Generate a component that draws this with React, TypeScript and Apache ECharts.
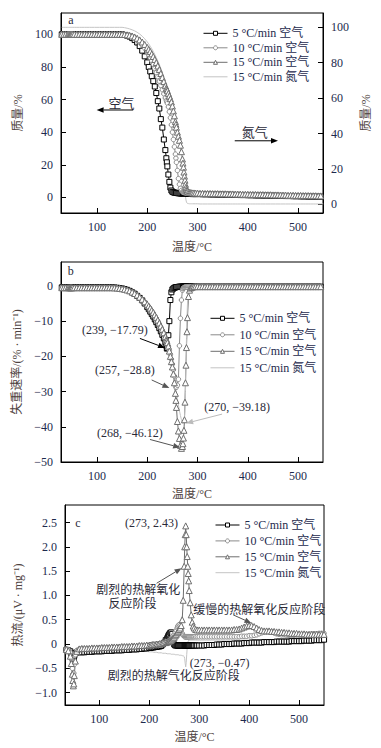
import React, { useEffect, useRef } from "react";
import * as echarts from "echarts";

// shared temperature grid (°C)
const temps = [
  30, 34, 38, 42, 44, 46, 47, 48, 49, 50, 52, 55, 60,
  65, 70, 75, 80, 85, 90, 95, 100, 105, 110, 115, 120, 125, 130, 135, 140, 145, 150, 155, 160, 165, 170, 175, 180, 185, 190, 195, 200,
  203, 206, 209, 212, 215, 218, 221, 224, 227, 230, 233, 236,
  238, 239, 240, 242, 244, 246, 248, 250, 252, 254, 256, 257, 258, 260, 262, 264, 266, 268, 270,
  271, 272, 273, 274, 275, 276, 277, 278, 279, 280,
  282, 284, 286, 288, 290,
  293, 296, 300,
  305, 310, 315, 320, 325, 330, 335, 340, 345, 350,
  355, 360, 365, 370, 375, 380, 385, 390, 395, 400,
  405, 410, 415, 420, 425, 430, 435, 440, 445, 450,
  455, 460, 465, 470, 475, 480, 485, 490, 495, 500,
  505, 510, 515, 520, 525, 530, 535, 540, 545, 550,
];

const seriesNames = ["5 °C/min 空气", "10 °C/min 空气", "15 °C/min 空气", "15 °C/min 氮气"];
const xTicks = [100, 200, 300, 400, 500];
const massTicks = [0, 20, 40, 60, 80, 100];
const rateTicks = [-50, -40, -30, -20, -10, 0];
const heatTicks = [-1, -0.5, 0, 0.5, 1, 1.5, 2, 2.5];

// (a) mass %
const massAir5 = [
  100, 100, 100, 100, 100, 100, 100, 100, 100, 100, 100, 100, 100,
  100, 100, 100, 100, 100, 100, 100, 100, 100, 100, 100, 100, 100, 100, 100, 100, 100, 100, 99.6, 99.2, 98.6, 97.7, 96.5, 95, 92.8, 90, 86.5, 82.8,
  80, 77.2, 74.3, 71.3, 68, 64, 59, 54.5, 48, 42.8, 35.5, 29,
  24, 21.5, 19, 14, 9.5, 6, 4.2, 3.4, 3.1, 2.9, 2.8, 2.7, 2.7, 2.6, 2.5, 2.5, 2.4, 2.4, 2.3,
  2.3, 2.3, 2.3, 2.2, 2.2, 2.2, 2.2, 2.2, 2.2, 2.1,
  2.1, 2.1, 2.1, 2.1, 2.0,
  2.0, 2.0, 2.0,
  2.0, 1.9, 1.9, 1.9, 1.8, 1.8, 1.8, 1.7, 1.7, 1.7,
  1.6, 1.6, 1.6, 1.5, 1.5, 1.5, 1.4, 1.4, 1.4, 1.3,
  1.3, 1.3, 1.2, 1.2, 1.2, 1.1, 1.1, 1.1, 1.0, 1.0,
  1.0, 0.9, 0.9, 0.9, 0.8, 0.8, 0.8, 0.7, 0.7, 0.7,
  0.6, 0.6, 0.6, 0.5, 0.5, 0.5, 0.4, 0.4, 0.4, 0.3,
];
const massAir10 = [
  100, 100, 100, 100, 100, 100, 100, 100, 100, 100, 100, 100, 100,
  100, 100, 100, 100, 100, 100, 100, 100, 100, 100, 100, 100, 100, 100, 100, 100, 100, 100, 99.8, 99.5, 99.1, 98.5, 97.7, 96.6, 95.2, 93.5, 91.5, 89.2,
  87.6, 85.8, 83.8, 81.6, 79, 76.5, 74, 71.3, 68.6, 66, 63.5, 61,
  59.5, 58.7, 57.8, 55.5, 52.5, 48.8, 44.5, 40, 35.5, 31, 26.5, 24, 21.5, 16.5, 11.5, 8, 5.5, 4.2, 3.4,
  3.2, 3.1, 3.0, 2.9, 2.9, 2.8, 2.8, 2.7, 2.7, 2.7,
  2.6, 2.6, 2.6, 2.5, 2.5,
  2.5, 2.4, 2.4,
  2.3, 2.3, 2.2, 2.2, 2.2, 2.1, 2.1, 2.1, 2.0, 2.0,
  2.0, 1.9, 1.9, 1.9, 1.8, 1.8, 1.8, 1.7, 1.7, 1.7,
  1.6, 1.6, 1.6, 1.5, 1.5, 1.5, 1.4, 1.4, 1.4, 1.3,
  1.3, 1.3, 1.2, 1.2, 1.2, 1.1, 1.1, 1.1, 1.0, 1.0,
  1.0, 0.9, 0.9, 0.9, 0.8, 0.8, 0.8, 0.7, 0.7, 0.6,
];
const massAir15 = [
  100, 100, 100, 100, 100, 100, 100, 100, 100, 100, 100, 100, 100,
  100, 100, 100, 100, 100, 100, 100, 100, 100, 100, 100, 100, 100, 100, 100, 100, 100, 100, 99.9, 99.7, 99.4, 99, 98.4, 97.6, 96.6, 95.3, 93.8, 92,
  90.8, 89.5, 88, 86.4, 84.6, 82.7, 80.6, 78.4, 76, 73.5, 71, 68.5,
  67, 66.2, 65.4, 63.8, 62.2, 60.5, 58.5, 56, 53, 50, 46.5, 44.8, 43, 40, 37.5, 35, 32, 28, 23.5,
  21, 18.5, 15.5, 13, 10.5, 8, 6.2, 5, 4.2, 3.7,
  3.2, 3.0, 2.9, 2.8, 2.7,
  2.7, 2.6, 2.6,
  2.5, 2.5, 2.4, 2.4, 2.4, 2.3, 2.3, 2.3, 2.2, 2.2,
  2.2, 2.1, 2.1, 2.1, 2.0, 2.0, 2.0, 1.9, 1.9, 1.9,
  1.8, 1.8, 1.8, 1.7, 1.7, 1.7, 1.6, 1.6, 1.6, 1.5,
  1.5, 1.5, 1.4, 1.4, 1.4, 1.3, 1.3, 1.3, 1.2, 1.2,
  1.2, 1.1, 1.1, 1.1, 1.0, 1.0, 1.0, 0.9, 0.9, 0.8,
];
const massN2 = [
  100, 100, 100, 100, 100, 100, 100, 100, 100, 100, 100, 100, 100,
  100, 100, 100, 100, 100, 100, 100, 100, 100, 100, 100, 100, 100, 100, 100, 100, 100, 100, 99.8, 99.5, 99.1, 98.6, 98, 97.2, 96.2, 95, 93.5, 91.8,
  90.6, 89.3, 87.9, 86.4, 84.7, 82.9, 81, 79, 76.8, 74.5, 72, 69.5,
  67.8, 67, 66, 64.2, 62.3, 60.2, 58, 55.6, 53, 50.2, 47.4, 46, 44.5, 41.5, 39, 36.5, 33, 29, 24.5,
  21.5, 18, 14.5, 11, 7.5, 4.5, 2.5, 1.3, 0.8, 0.5,
  0.4, 0.3, 0.3, 0.3, 0.3,
  0.3, 0.3, 0.3,
  0.2, 0.2, 0.2, 0.2, 0.2, 0.2, 0.2, 0.2, 0.2, 0.2,
  0.2, 0.2, 0.2, 0.2, 0.2, 0.2, 0.2, 0.2, 0.2, 0.2,
  0.2, 0.2, 0.2, 0.2, 0.2, 0.2, 0.2, 0.2, 0.2, 0.2,
  0.2, 0.2, 0.2, 0.2, 0.2, 0.2, 0.2, 0.2, 0.2, 0.2,
  0.2, 0.2, 0.2, 0.2, 0.2, 0.2, 0.2, 0.2, 0.2, 0.2,
];

// (b) mass-loss rate %/min
const rateAir5 = [
  -0.4, -0.4, -0.4, -0.4, -0.4, -0.4, -0.4, -0.4, -0.4, -0.4, -0.4, -0.4, -0.4,
  -0.4, -0.4, -0.4, -0.4, -0.4, -0.4, -0.4, -0.4, -0.4, -0.4, -0.4, -0.4, -0.4, -0.4, -0.45, -0.5, -0.6, -0.7, -0.9, -1.1, -1.4, -1.8, -2.2, -2.8, -3.4, -4.1, -5, -6,
  -6.6, -7.3, -8, -8.7, -9.5, -10.3, -11.1, -12, -12.9, -13.9, -14.9, -16,
  -17, -17.79, -17.6, -14, -10, -4, -1.8, -1.0, -0.7, -0.5, -0.4, -0.35, -0.3, -0.3, -0.25, -0.2, -0.2, -0.2, -0.2,
  -0.2, -0.2, -0.2, -0.2, -0.2, -0.2, -0.2, -0.2, -0.2, -0.2,
  -0.2, -0.2, -0.2, -0.2, -0.2,
  -0.2, -0.2, -0.2,
  -0.2, -0.2, -0.2, -0.2, -0.2, -0.2, -0.2, -0.2, -0.2, -0.2,
  -0.2, -0.2, -0.2, -0.2, -0.2, -0.2, -0.2, -0.2, -0.2, -0.2,
  -0.2, -0.2, -0.2, -0.2, -0.2, -0.2, -0.2, -0.2, -0.2, -0.2,
  -0.2, -0.2, -0.2, -0.2, -0.2, -0.2, -0.2, -0.2, -0.2, -0.2,
  -0.2, -0.2, -0.2, -0.2, -0.2, -0.2, -0.2, -0.2, -0.2, -0.2,
];
const rateAir10 = [
  -0.5, -0.5, -0.5, -0.5, -0.5, -0.5, -0.5, -0.5, -0.5, -0.5, -0.5, -0.5, -0.5,
  -0.5, -0.5, -0.5, -0.5, -0.5, -0.5, -0.5, -0.5, -0.5, -0.5, -0.5, -0.5, -0.5, -0.5, -0.55, -0.6, -0.7, -0.8, -1.0, -1.2, -1.5, -1.9, -2.3, -2.8, -3.4, -4.0, -4.7, -5.5,
  -6.0, -6.6, -7.2, -7.8, -8.5, -9.2, -10, -10.8, -11.7, -12.6, -13.6, -14.7,
  -15.5, -15.9, -16.3, -17.2, -18.3, -19.5, -20.8, -22.2, -23.8, -25.6, -27.6, -28.8, -28.7, -28.2, -26.5, -17, -9.2, -4, -1.2,
  -0.8, -0.6, -0.5, -0.4, -0.35, -0.3, -0.3, -0.3, -0.3, -0.3,
  -0.25, -0.25, -0.25, -0.25, -0.25,
  -0.2, -0.2, -0.2,
  -0.2, -0.2, -0.2, -0.2, -0.2, -0.2, -0.2, -0.2, -0.2, -0.2,
  -0.2, -0.2, -0.2, -0.2, -0.2, -0.2, -0.2, -0.2, -0.2, -0.2,
  -0.2, -0.2, -0.2, -0.2, -0.2, -0.2, -0.2, -0.2, -0.2, -0.2,
  -0.2, -0.2, -0.2, -0.2, -0.2, -0.2, -0.2, -0.2, -0.2, -0.2,
  -0.2, -0.2, -0.2, -0.2, -0.2, -0.2, -0.2, -0.2, -0.2, -0.2,
];
const rateAir15 = [
  -0.5, -0.5, -0.5, -0.5, -0.5, -0.5, -0.5, -0.5, -0.5, -0.5, -0.5, -0.5, -0.5,
  -0.5, -0.5, -0.5, -0.5, -0.5, -0.5, -0.5, -0.5, -0.5, -0.5, -0.5, -0.5, -0.5, -0.5, -0.55, -0.6, -0.7, -0.8, -0.95, -1.15, -1.4, -1.75, -2.15, -2.6, -3.2, -3.8, -4.5, -5.2,
  -5.7, -6.3, -6.9, -7.5, -8.2, -8.9, -9.7, -10.5, -11.4, -12.3, -13.3, -14.4,
  -15.2, -15.6, -16.1, -17.1, -18.5, -20, -21.5, -23, -25, -27.5, -30.5, -32.5, -34.5, -38.5, -41.2, -43.3, -45.3, -46.12, -45.6,
  -44.8, -43.2, -41, -38, -33, -27.5, -22.5, -17.5, -13, -9,
  -3, -1.2, -0.6, -0.4, -0.3,
  -0.2, -0.2, -0.2,
  -0.2, -0.2, -0.2, -0.2, -0.2, -0.2, -0.2, -0.2, -0.2, -0.2,
  -0.2, -0.2, -0.2, -0.2, -0.2, -0.2, -0.2, -0.2, -0.2, -0.2,
  -0.2, -0.2, -0.2, -0.2, -0.2, -0.2, -0.2, -0.2, -0.2, -0.2,
  -0.2, -0.2, -0.2, -0.2, -0.2, -0.2, -0.2, -0.2, -0.2, -0.2,
  -0.2, -0.2, -0.2, -0.2, -0.2, -0.2, -0.2, -0.2, -0.2, -0.2,
];
const rateN2 = [
  -0.5, -0.5, -0.5, -0.5, -0.5, -0.5, -0.5, -0.5, -0.5, -0.5, -0.5, -0.5, -0.5,
  -0.5, -0.5, -0.5, -0.5, -0.5, -0.5, -0.5, -0.5, -0.5, -0.5, -0.5, -0.5, -0.5, -0.5, -0.55, -0.6, -0.7, -0.8, -0.95, -1.15, -1.4, -1.75, -2.15, -2.6, -3.2, -3.8, -4.5, -5.2,
  -5.7, -6.3, -6.9, -7.5, -8.2, -8.9, -9.7, -10.5, -11.4, -12.3, -13.3, -14.4,
  -15.2, -15.6, -16.1, -17.1, -18.5, -20, -21.5, -23, -24.8, -26.6, -28.4, -29.3, -30.2, -32, -33.8, -35.4, -36.8, -38, -38.9,
  -39.1, -39.18, -38.8, -37.5, -35, -30, -23, -15, -9, -5,
  -1.8, -0.8, -0.5, -0.4, -0.3,
  -0.3, -0.2, -0.2,
  -0.2, -0.2, -0.2, -0.2, -0.2, -0.2, -0.2, -0.2, -0.2, -0.2,
  -0.2, -0.2, -0.2, -0.2, -0.2, -0.2, -0.2, -0.2, -0.2, -0.2,
  -0.2, -0.2, -0.2, -0.2, -0.2, -0.2, -0.2, -0.2, -0.2, -0.2,
  -0.2, -0.2, -0.2, -0.2, -0.2, -0.2, -0.2, -0.2, -0.2, -0.2,
  -0.2, -0.2, -0.2, -0.2, -0.2, -0.2, -0.2, -0.2, -0.2, -0.2,
];

// (c) heat flow µV/mg
const heatAir5 = [
  -0.12, -0.12, -0.13, -0.15, -0.2, -0.28, -0.33, -0.35, -0.3, -0.24, -0.19, -0.17, -0.17,
  -0.17, -0.17, -0.16, -0.16, -0.16, -0.15, -0.15, -0.15, -0.15, -0.14, -0.14, -0.14, -0.14, -0.13, -0.13, -0.13, -0.13, -0.12, -0.12, -0.12, -0.11, -0.11, -0.11, -0.1, -0.1, -0.09, -0.09, -0.08,
  -0.08, -0.07, -0.07, -0.06, -0.06, -0.05, -0.05, -0.04, -0.01, 0.03, 0.08, 0.12,
  0.16, 0.18, 0.2, 0.23, 0.24, 0.21, 0.08, -0.01, -0.03, -0.03, -0.03, -0.03, -0.03, -0.03, -0.03, -0.03, -0.03, -0.03, -0.03,
  -0.03, -0.03, -0.03, -0.03, -0.03, -0.03, -0.03, -0.03, -0.03, -0.03,
  -0.03, -0.03, -0.03, -0.03, -0.03,
  -0.03, -0.03, -0.03,
  -0.03, -0.03, -0.02, -0.02, -0.02, -0.02, -0.01, -0.01, -0.01, 0,
  0, 0, 0, 0.01, 0.01, 0.01, 0.01, 0.02, 0.02, 0.02,
  0.03, 0.03, 0.03, 0.03, 0.03, 0.04, 0.04, 0.04, 0.04, 0.04,
  0.05, 0.05, 0.05, 0.05, 0.05, 0.05, 0.06, 0.06, 0.06, 0.06,
  0.06, 0.07, 0.07, 0.07, 0.07, 0.08, 0.08, 0.08, 0.08, 0.09,
];
const heatAir10 = [
  -0.1, -0.1, -0.12, -0.18, -0.3, -0.5, -0.62, -0.68, -0.6, -0.42, -0.22, -0.13, -0.1,
  -0.1, -0.1, -0.1, -0.09, -0.09, -0.09, -0.09, -0.08, -0.08, -0.08, -0.08, -0.07, -0.07, -0.07, -0.07, -0.06, -0.06, -0.06, -0.06, -0.05, -0.05, -0.05, -0.05, -0.04, -0.04, -0.04, -0.03, -0.03,
  -0.03, -0.02, -0.02, -0.02, -0.01, -0.01, 0, 0, 0.01, 0.02, 0.03, 0.04,
  0.05, 0.06, 0.07, 0.09, 0.11, 0.14, 0.17, 0.2, 0.24, 0.28, 0.33, 0.36, 0.38, 0.4, 0.38, 0.3, 0.22, 0.18, 0.16,
  0.15, 0.15, 0.15, 0.15, 0.15, 0.15, 0.15, 0.15, 0.15, 0.15,
  0.15, 0.15, 0.15, 0.15, 0.15,
  0.15, 0.15, 0.15,
  0.15, 0.15, 0.15, 0.15, 0.15, 0.15, 0.15, 0.15, 0.15, 0.15,
  0.15, 0.15, 0.15, 0.15, 0.15, 0.15, 0.16, 0.16, 0.16, 0.17,
  0.17, 0.18, 0.19, 0.21, 0.23, 0.25, 0.26, 0.26, 0.25, 0.23,
  0.21, 0.2, 0.19, 0.19, 0.18, 0.18, 0.18, 0.18, 0.19, 0.19,
  0.19, 0.2, 0.2, 0.2, 0.21, 0.21, 0.21, 0.22, 0.22, 0.22,
];
const heatAir15 = [
  -0.1, -0.11, -0.14, -0.25, -0.4, -0.62, -0.75, -0.86, -0.82, -0.65, -0.35, -0.15, -0.1,
  -0.09, -0.09, -0.09, -0.09, -0.08, -0.08, -0.08, -0.08, -0.07, -0.07, -0.07, -0.07, -0.06, -0.06, -0.06, -0.06, -0.05, -0.05, -0.05, -0.05, -0.04, -0.04, -0.04, -0.03, -0.03, -0.03, -0.02, -0.02,
  -0.02, -0.01, -0.01, -0.01, 0, 0, 0.01, 0.01, 0.02, 0.03, 0.03, 0.04,
  0.05, 0.05, 0.06, 0.07, 0.08, 0.1, 0.12, 0.14, 0.17, 0.2, 0.23, 0.25, 0.27, 0.3, 0.33, 0.38, 0.5, 0.9, 1.6,
  2.0, 2.25, 2.43, 2.25, 2.0, 1.8, 1.6, 1.45, 1.3, 1.1,
  0.85, 0.6, 0.45, 0.37, 0.33,
  0.3, 0.29, 0.29,
  0.29, 0.29, 0.29, 0.29, 0.29, 0.29, 0.29, 0.29, 0.29, 0.29,
  0.29, 0.29, 0.29, 0.3, 0.3, 0.31, 0.33, 0.35, 0.37, 0.38,
  0.38, 0.36, 0.33, 0.3, 0.28, 0.27, 0.27, 0.27, 0.26, 0.26,
  0.25, 0.25, 0.24, 0.24, 0.23, 0.23, 0.22, 0.22, 0.22, 0.21,
  0.21, 0.21, 0.2, 0.2, 0.2, 0.2, 0.2, 0.2, 0.2, 0.2,
];
const heatN2 = [
  -0.1, -0.1, -0.11, -0.13, -0.16, -0.2, -0.22, -0.22, -0.2, -0.16, -0.12, -0.1, -0.1,
  -0.11, -0.11, -0.11, -0.11, -0.11, -0.11, -0.11, -0.11, -0.11, -0.11, -0.11, -0.11, -0.11, -0.11, -0.11, -0.11, -0.11, -0.11, -0.11, -0.12, -0.12, -0.12, -0.13, -0.13, -0.14, -0.15, -0.15, -0.16,
  -0.16, -0.16, -0.17, -0.17, -0.17, -0.18, -0.18, -0.18, -0.19, -0.19, -0.19, -0.2,
  -0.2, -0.2, -0.2, -0.2, -0.21, -0.21, -0.21, -0.21, -0.22, -0.22, -0.22, -0.22, -0.22, -0.23, -0.23, -0.23, -0.24, -0.24, -0.26,
  -0.3, -0.4, -0.47, -0.38, -0.22, -0.08, 0.02, 0.06, 0.08, 0.08,
  0.08, 0.08, 0.08, 0.08, 0.08,
  0.08, 0.08, 0.08,
  0.08, 0.08, 0.08, 0.08, 0.08, 0.08, 0.08, 0.08, 0.08, 0.08,
  0.08, 0.08, 0.08, 0.08, 0.08, 0.08, 0.08, 0.08, 0.08, 0.08,
  0.09, 0.09, 0.09, 0.09, 0.09, 0.09, 0.09, 0.09, 0.09, 0.09,
  0.09, 0.09, 0.09, 0.09, 0.09, 0.1, 0.1, 0.1, 0.1, 0.1,
  0.1, 0.1, 0.1, 0.1, 0.1, 0.1, 0.1, 0.1, 0.1, 0.1,
];

const FONT = "'Liberation Serif', 'Times New Roman', 'Noto Sans CJK SC', serif";
const TICK = "#1d2a4d";
const NAMEC = "#4e4240";
const TXT = "#2a2a38";
const COL5 = "#000000";
const COL10 = "#8a8a8a";
const COL15 = "#6e6e6e";
const COLN2 = "#c4c4c4";

const minus = (s: string) => s.replace("-", "\u2212");

export default function App() {
  const ref = useRef<HTMLDivElement>(null);
  useEffect(() => {
    document.body.style.margin = "0";
    const chart = echarts.init(ref.current!, undefined, { renderer: "svg" });

    const styles = [
      { color: COL5, symbol: "rect", size: 5 },
      { color: COL10, symbol: "circle", size: 4.5 },
      { color: COL15, symbol: "triangle", size: 6 },
      { color: COLN2, symbol: "none", size: 0 },
    ];
    const mk = (k: number, vals: number[], xi: number, yi: number) => {
      const s = styles[k];
      return {
        type: "line",
        name: seriesNames[k],
        xAxisIndex: xi,
        yAxisIndex: yi,
        data: temps.map((t, i) => [t, vals[i]]),
        symbol: s.symbol,
        symbolSize: s.size,
        showSymbol: s.symbol !== "none",
        showAllSymbol: true,
        lineStyle: { color: s.color, width: 1 },
        itemStyle: { color: "#fff", borderColor: s.color, borderWidth: 1 },
        clip: true,
        silent: true,
      };
    };

    const xAxis = (gi: number, min: number, max: number, gap: number) => ({
      type: "value",
      gridIndex: gi,
      min,
      max,
      name: "温度/°C",
      nameLocation: "middle",
      nameGap: gap,
      nameTextStyle: { fontFamily: FONT, fontSize: 12, color: NAMEC },
      axisLine: { show: true, onZero: false, lineStyle: { color: "#000", width: 1 } },
      axisTick: { show: true, inside: true, length: 5, customValues: xTicks, lineStyle: { color: "#000" } },
      axisLabel: { customValues: xTicks, fontFamily: FONT, fontSize: 12, color: TICK, margin: 8 },
      splitLine: { show: false },
    });
    const yAxis = (gi: number, min: number, max: number, ticks: number[], name: string, gap: number, pos: string, fmt: (v: number) => string) => ({
      type: "value",
      gridIndex: gi,
      position: pos,
      min,
      max,
      name,
      nameLocation: "middle",
      nameGap: gap,
      nameTextStyle: { fontFamily: FONT, fontSize: 12, color: NAMEC },
      axisLine: { show: true, onZero: false, lineStyle: { color: "#000", width: 1 } },
      axisTick: { show: true, inside: true, length: 5, customValues: ticks, lineStyle: { color: "#000" } },
      axisLabel: { customValues: ticks, fontFamily: FONT, fontSize: 12, color: TICK, margin: 8, formatter: fmt },
      splitLine: { show: false },
    });

    const legend = (left: number, top: number, gap: number) => ({
      data: [
        { name: seriesNames[0] },
        { name: seriesNames[1] },
        { name: seriesNames[2] },
        { name: seriesNames[3], itemStyle: { opacity: 0 } },
      ],
      left,
      top,
      orient: "vertical",
      itemWidth: 24,
      itemHeight: 5,
      itemGap: gap,
      padding: 0,
      selectedMode: false,
      itemStyle: { color: "#fff", borderWidth: 1 },
      lineStyle: { width: 1 },
      textStyle: { fontFamily: FONT, fontSize: 12, color: TICK, lineHeight: 12 },
    });

    const gridStyle = { show: true, borderColor: "#000", borderWidth: 1, containLabel: false };

    chart.setOption({
      animation: false,
      textStyle: { fontFamily: FONT },
      grid: [
        { left: 61, top: 13, width: 262, height: 200, ...gridStyle },
        { left: 61, top: 262, width: 262, height: 200, ...gridStyle },
        { left: 65, top: 505, width: 259, height: 200, ...gridStyle },
      ],
      xAxis: [xAxis(0, 28.5, 549.5, 28), xAxis(1, 28.5, 549.5, 26), xAxis(2, 31.3, 549.9, 26)],
      yAxis: [
        yAxis(0, -9.6, 113.1, massTicks, "质量/%", 28, "left", (v) => String(v)),
        yAxis(0, -4.9, 108.1, massTicks, "质量/%", 31, "right", (v) => String(v)),
        yAxis(1, -50, 6.8, rateTicks, "失重速率/(% · min⁻¹)", 28, "left", (v) => minus(String(v))),
        yAxis(2, -1.254, 2.86, heatTicks, "热流/(μV · mg⁻¹)", 26, "left", (v) => (v === 0 ? "0" : minus(v.toFixed(1)))),
      ],
      legend: [legend(203, 27.3, 2.5), legend(210, 312.3, 4.5), legend(215, 519, 3.9)],
      series: [
        mk(0, massAir5, 0, 0),
        mk(1, massAir10, 0, 0),
        mk(2, massAir15, 0, 0),
        mk(3, massN2, 0, 1),
        mk(0, rateAir5, 1, 2),
        mk(1, rateAir10, 1, 2),
        mk(2, rateAir15, 1, 2),
        mk(3, rateN2, 1, 2),
        mk(0, heatAir5, 2, 3),
        mk(1, heatAir10, 2, 3),
        mk(2, heatAir15, 2, 3),
        mk(3, heatN2, 2, 3),
      ],
    });

    const px = (xi: number, yi: number, p: number[]) =>
      chart.convertToPixel({ xAxisIndex: xi, yAxisIndex: yi } as any, p) as number[];
    const g: any[] = [];
    const text = (xi: number, yi: number, p: number[], t: string, size = 12, color = TXT) => {
      const q = px(xi, yi, p);
      g.push({
        type: "text",
        x: q[0],
        y: q[1],
        z: 100,
        style: { text: t, fontFamily: FONT, fontSize: size, fill: color, align: "center", verticalAlign: "middle" },
      });
    };
    const arrow = (xi: number, yi: number, a: number[], b: number[], color: string) => {
      const p1 = px(xi, yi, a);
      const p2 = px(xi, yi, b);
      const dx = p2[0] - p1[0];
      const dy = p2[1] - p1[1];
      const L = Math.hypot(dx, dy) || 1;
      const ux = dx / L;
      const uy = dy / L;
      const hl = 7;
      const hw = 2.8;
      const bx = p2[0] - ux * hl;
      const by = p2[1] - uy * hl;
      g.push({ type: "line", z: 100, shape: { x1: p1[0], y1: p1[1], x2: bx, y2: by }, style: { stroke: color, lineWidth: 1 } });
      g.push({
        type: "polygon",
        z: 100,
        shape: { points: [[p2[0], p2[1]], [bx - uy * hw, by + ux * hw], [bx + uy * hw, by - ux * hw]] },
        style: { fill: color },
      });
    };

    // panel a
    text(0, 0, [48, 109], "a");
    text(0, 0, [149, 57.7], "空气", 13);
    arrow(0, 0, [172, 53.6], [99.4, 53.6], "#000");
    text(0, 0, [414, 39.7], "氮气", 13);
    arrow(0, 0, [374, 34.7], [460, 34.7], "#000");
    // panel b
    text(1, 2, [48, 4.2], "b");
    text(1, 2, [135.4, -12.5], "(239, \u221217.79)");
    arrow(1, 2, [185.4, -14.9], [235.4, -17.6], "#000");
    text(1, 2, [155.4, -23.9], "(257, \u221228.8)");
    arrow(1, 2, [208.8, -26.7], [244, -29], "#555");
    text(1, 2, [378.8, -34.3], "(270, \u221239.18)");
    arrow(1, 2, [348.8, -36.4], [277.4, -39], "#bbb");
    text(1, 2, [165.4, -41.8], "(268, \u221246.12)");
    arrow(1, 2, [205.4, -43.6], [265.4, -45.9], "#555");
    // panel c
    text(2, 3, [57.3, 2.49], "c");
    text(2, 3, [204.7, 2.49], "(273, 2.43)");
    text(2, 3, [178, 1.11], "剧烈的热解氧化");
    text(2, 3, [166.3, 0.82], "反应阶段");
    arrow(2, 3, [214.7, 1.25], [264.7, 1.56], "#555");
    text(2, 3, [420.3, 0.7], "缓慢的热解氧化反应阶段");
    arrow(2, 3, [368, 0.6], [404.7, 0.43], "#555");
    text(2, 3, [340.7, -0.4], "(273, \u22120.47)");
    text(2, 3, [249.3, -0.66], "剧烈的热解气化反应阶段");

    chart.setOption({ graphic: g });

    return () => chart.dispose();
  }, []);
  return <div ref={ref} style={{ width: 381, height: 748 }} />;
}
